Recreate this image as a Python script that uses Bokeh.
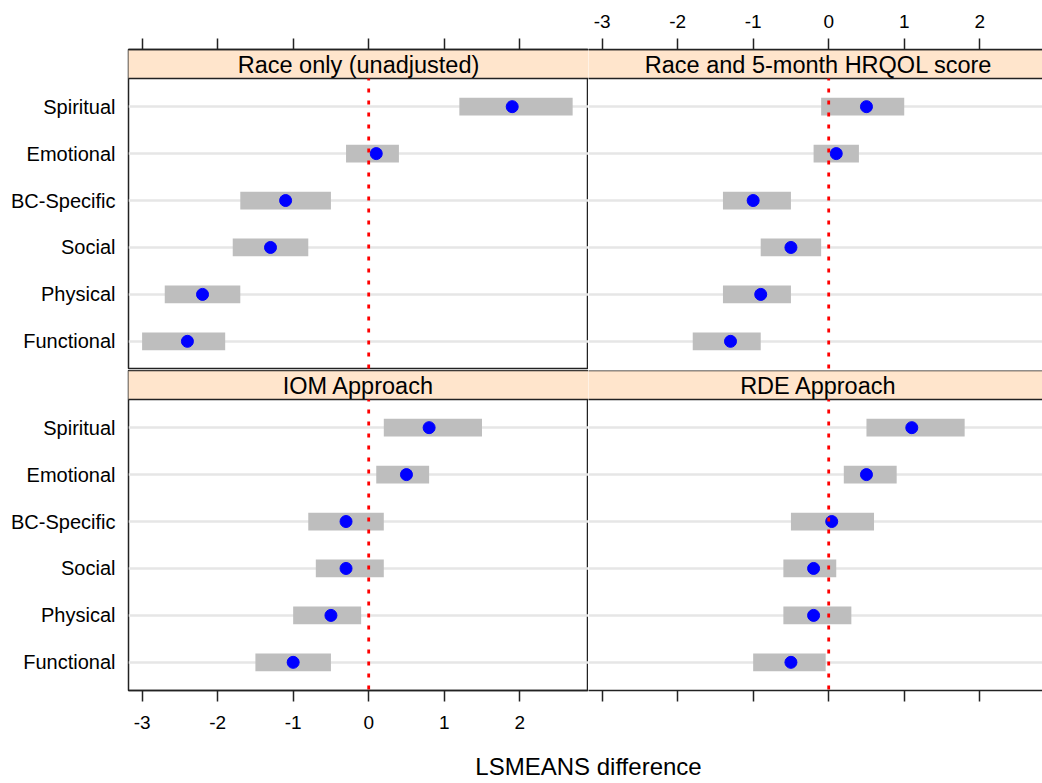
from bokeh.plotting import figure
from bokeh.layouts import column, row
from bokeh.models import Range1d, FixedTicker, Grid, CustomJSTickFormatter
from bokeh.core.properties import value
from bokeh.embed import file_html
from bokeh.resources import INLINE

# ---------------- data ----------------
categories = ["Functional", "Physical", "Social", "BC-Specific", "Emotional", "Spiritual"]
panel_titles = ["Race only (unadjusted)", "Race and 5-month HRQOL score",
                "IOM Approach", "RDE Approach"]

race_est = [-2.4, -2.2, -1.3, -1.1, 0.1, 1.9]
race_lo = [-3.0, -2.7, -1.8, -1.7, -0.3, 1.2]
race_hi = [-1.9, -1.7, -0.8, -0.5, 0.4, 2.7]

hrqol_est = [-1.3, -0.9, -0.5, -1.0, 0.1, 0.5]
hrqol_lo = [-1.8, -1.4, -0.9, -1.4, -0.2, -0.1]
hrqol_hi = [-0.9, -0.5, -0.1, -0.5, 0.4, 1.0]

iom_est = [-1.0, -0.5, -0.3, -0.3, 0.5, 0.8]
iom_lo = [-1.5, -1.0, -0.7, -0.8, 0.1, 0.2]
iom_hi = [-0.5, -0.1, 0.2, 0.2, 0.8, 1.5]

rde_est = [-0.5, -0.2, -0.2, 0.04, 0.5, 1.1]
rde_lo = [-1.0, -0.6, -0.6, -0.5, 0.2, 0.5]
rde_hi = [-0.04, 0.3, 0.1, 0.6, 0.9, 1.8]

x_ticks = [-3, -2, -1, 0, 1, 2]
x_label = "LSMEANS difference"

# ---------------- layout / style ----------------
FONT = "Liberation Sans"
X0, X1 = -3.18, 2.91            # nominal x extent of a panel
PANEL_W = 460                   # px width of a full panel
RIGHT_W = 454                   # right column is cut at the page edge
LEFT_PAD = 128
PX_X = PANEL_W / (X1 - X0)
Y0, Y1 = 0.4, 6.6               # data area of a panel
ROW_PX = 46.94
STRIP = 29 / ROW_PX
YTOP = Y1 + STRIP
FRAME_H = 320
LINE = "#222222"
BASE_SHIFT = 9                  # px correction for alphabetic baseline placement

rows_y = list(range(1, len(categories) + 1))


def panel(title, est, lo, hi, frame_w, left, top):
    x_end = X0 + frame_w / PX_X
    width = frame_w + (LEFT_PAD if left else 0)
    if top:
        height, mb_top, mb_bot = 49 + FRAME_H, 49, 0
    else:
        height, mb_top, mb_bot = 1 + FRAME_H + 50, 1, 50
    p = figure(width=width, height=height,
               x_range=Range1d(X0, x_end), y_range=Range1d(Y0, YTOP),
               x_axis_location="above" if top else "below",
               y_axis_location="left" if left else None,
               output_backend="svg", toolbar_location=None,
               min_border_left=LEFT_PAD if left else 0, min_border_right=0,
               min_border_top=mb_top, min_border_bottom=mb_bot,
               outline_line_color=LINE if left else None, outline_line_width=1.5,
               background_fill_color="white", border_fill_color="white")
    p.xgrid.visible = False
    p.ygrid.visible = False
    p.add_layout(Grid(dimension=1, ticker=FixedTicker(ticks=rows_y),
                      grid_line_color="#E6E6E6", grid_line_width=2.5))

    # x axis
    ax = p.xaxis[0]
    ax.ticker = FixedTicker(ticks=x_ticks)
    ax.major_tick_out = 11
    ax.major_tick_in = 0
    ax.minor_tick_line_color = None
    ax.major_tick_line_color = LINE
    ax.major_tick_line_width = 1.5
    ax.axis_line_color = LINE
    ax.axis_line_width = 1.5
    ax.major_label_text_font = FONT
    ax.major_label_text_font_size = "19px"
    ax.major_label_text_color = "black"
    ax.major_label_standoff = 11 if top else 14
    show_labels = (top and not left) or (not top and left)
    if show_labels:
        ax.formatter = CustomJSTickFormatter(code="return tick.toString()")
    else:
        ax.formatter = CustomJSTickFormatter(code="return ''")

    # y axis
    if left:
        ay = p.yaxis[0]
        ay.ticker = FixedTicker(ticks=rows_y)
        ay.major_label_overrides = {r: c for r, c in zip(rows_y, categories)}
        ay.major_tick_out = 0
        ay.major_tick_in = 0
        ay.minor_tick_line_color = None
        ay.axis_line_color = None
        ay.major_label_standoff = 13
        ay.major_label_text_font = FONT
        ay.major_label_text_font_size = "20px"
        ay.major_label_text_color = "black"

    # strip
    p.quad(left=[X0 - 1], right=[x_end + 1], bottom=[Y1], top=[YTOP],
           fill_color="#FFE5CC", line_color=LINE, line_width=1.5)
    p.text(x=[(X0 + X1) / 2], y=[Y1 + (4 + BASE_SHIFT) / ROW_PX], text=[title],
           text_font=value(FONT), text_font_size="23.5px",
           text_align="center", text_baseline="alphabetic", text_color="black")

    # intervals and estimates
    p.hbar(y=rows_y, left=lo, right=hi, height=17.7 / ROW_PX,
           fill_color="#BEBEBE", line_color=None)
    p.scatter(x=est, y=rows_y, size=12, fill_color="blue", line_color="blue")

    # zero reference line
    p.segment(x0=[0], y0=[Y1], x1=[0], y1=[Y0], line_color="red",
              line_width=2.8, line_dash="4 8", line_dash_offset=-10)
    return p


tl = panel(panel_titles[0], race_est, race_lo, race_hi, PANEL_W, True, True)
tr = panel(panel_titles[1], hrqol_est, hrqol_lo, hrqol_hi, RIGHT_W, False, True)
bl = panel(panel_titles[2], iom_est, iom_lo, iom_hi, PANEL_W, True, False)
br = panel(panel_titles[3], rde_est, rde_lo, rde_hi, RIGHT_W, False, False)

TOTAL_W = LEFT_PAD + PANEL_W + RIGHT_W
LAB_H = 43
lab = figure(width=TOTAL_W, height=LAB_H, x_range=Range1d(0, TOTAL_W),
             y_range=Range1d(0, LAB_H),
             x_axis_location=None, y_axis_location=None, output_backend="svg",
             toolbar_location=None, min_border_left=0, min_border_right=0,
             min_border_top=0, min_border_bottom=0, outline_line_color=None)
lab.xgrid.visible = False
lab.ygrid.visible = False
lab.text(x=[LEFT_PAD + PANEL_W], y=[8 + BASE_SHIFT], text=[x_label],
         text_font=value(FONT), text_font_size="24px", text_align="center",
         text_baseline="alphabetic", text_color="black")

layout = column(row(tl, tr), row(bl, br), lab)

with open("out.html", "w") as f:
    f.write(file_html(layout, INLINE))
